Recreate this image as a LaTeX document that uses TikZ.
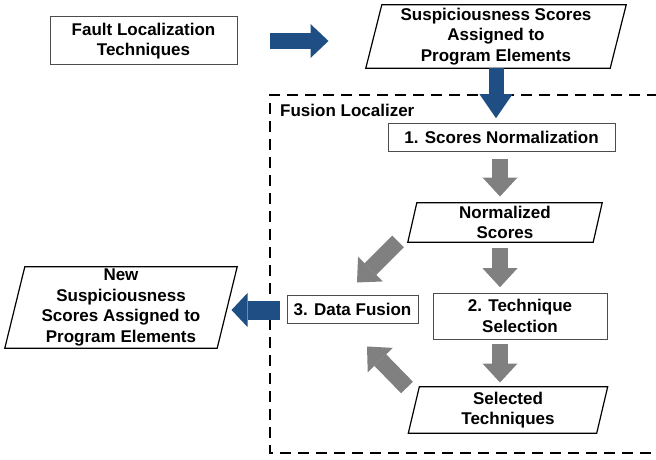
\documentclass[tikz,border=0pt]{standalone}
\usepackage{fontspec}
\setmainfont{Liberation Sans}
\usetikzlibrary{arrows.meta,calc}
\definecolor{arrblue}{HTML}{1F4E85}
\definecolor{arrgray}{HTML}{808080}
\newcommand\parabox[2]{%
  \draw[parabord] ([xshift=#2pt]#1.north west) -- ([xshift=#2pt]#1.north east)
    -- ([xshift=-#2pt]#1.south east) -- ([xshift=-#2pt]#1.south west) -- cycle;}
\tikzset{
  txt/.style={font=\bfseries\fontsize{17}{20.5}\selectfont, align=center, inner sep=0pt},
  rbox/.style={txt, draw=black!70, line width=1pt},
  pbox/.style={txt},
  parabord/.style={draw=black, line width=1.2pt, line join=miter},
  bluearr/.style={draw=arrblue, line width=16pt,
    -{Triangle[length=18pt,width=34pt,line width=0pt]}},
  grayarr/.style={draw=arrgray, line width=16.5pt,
    -{Triangle[length=19pt,width=35pt,line width=0pt]}},
  dashframe/.style={draw=black, line width=2.4pt, dash pattern=on 11pt off 7pt}
}
\begin{document}
\begin{tikzpicture}[x=1pt,y=-1pt]
\useasboundingbox (0,0) rectangle (656,460);
\fill[white] (0,0) rectangle (656,460);

% dashed frame of the Fusion Localizer
\draw[dashframe] (658,95) -- (270,95) -- (270,453) -- (658,453);
\node[txt, anchor=west] (fl) at (280,110) {Fusion Localizer};

% boxes
\node[rbox, minimum width=187pt, minimum height=48pt] (fault) at (143.5,41)
  {Fault Localization\\Techniques};
\node[pbox, minimum width=244pt, minimum height=63pt] (scores) at (496,36.5)
  {Suspiciousness Scores\\Assigned to\\Program Elements};
\parabox{scores}{8}
\node[rbox, minimum width=227pt, minimum height=28pt] (norm) at (501.5,137)
  {1. Scores Normalization};
\node[pbox, minimum width=185pt, minimum height=39pt] (nscores) at (505,222.5)
  {Normalized\\Scores};
\parabox{nscores}{4.5}
\node[rbox, minimum width=174pt, minimum height=46pt] (tech) at (520,316)
  {2. Technique\\Selection};
\node[pbox, minimum width=188pt, minimum height=46pt] (stech) at (508,410)
  {Selected\\Techniques};
\parabox{stech}{5.5}
\node[rbox, minimum width=131pt, minimum height=28pt] (fusion) at (352.5,309)
  {3. Data Fusion};
\node[pbox, minimum width=212pt, minimum height=81pt] (newscores) at (121,307.5)
  {New\\Suspiciousness\\Scores Assigned to\\Program Elements};
\parabox{newscores}{10}

% blue arrows
\draw[bluearr] ($(fault.east)+(32,0)$) -- ($(fault.east)+(91,0)$);
\draw[bluearr, line width=15pt, -{Triangle[length=24pt,width=33pt,line width=0pt]}]
  (scores.south) -- ($(scores.south)+(0,50)$);
\draw[bluearr, line width=19pt, -{Triangle[length=16pt,width=34pt,line width=0pt]}]
  ($(fusion.west)+(-7,1)$) -- ($(fusion.west)+(-55,1)$);

% gray arrows
\draw[grayarr] ($(norm.south)+(-1.5,7)$) -- ($(norm.south)+(-1.5,45)$);
\draw[grayarr] ($(nscores.south)+(-5,6)$) -- ($(nscores.south)+(-5,45)$);
\draw[grayarr] ($(tech.south)+(-20,4)$) -- ($(tech.south)+(-20,43)$);
\draw[grayarr] ($(fusion.north)+(45.5,-53)$) -- ($(fusion.north)+(4.5,-12)$);
\draw[grayarr] ($(fusion.south)+(54.5,64)$) -- ($(fusion.south)+(14.5,23)$);
\end{tikzpicture}
\end{document}
